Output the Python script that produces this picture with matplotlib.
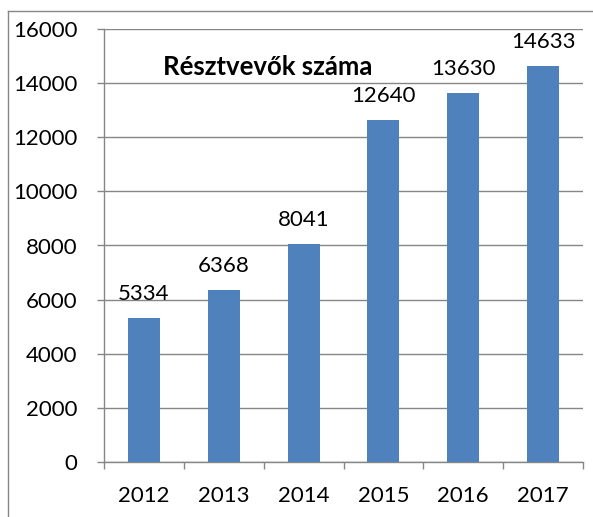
import numpy as np
import matplotlib.pyplot as plt
from matplotlib.lines import Line2D

years = ["2012", "2013", "2014", "2015", "2016", "2017"]
participants = [5334, 6368, 8041, 12640, 13630, 14633]
y_ticks = [0, 2000, 4000, 6000, 8000, 10000, 12000, 14000, 16000]
title = "Résztvevők száma"

bar_color = "#4F81BD"
line_color = "#868686"

plt.rcParams["font.family"] = ["Lato", "DejaVu Sans"]

fig = plt.figure(figsize=(5.93, 5.17), dpi=100)
ax = fig.add_axes([104 / 593, 55 / 517, 479 / 593, 433 / 517])

x = np.arange(len(years))
ax.bar(x, participants, width=0.4, color=bar_color, zorder=3)

# data labels above bars
for xi, v in zip(x, participants):
    ax.annotate(str(v), (xi, v), xytext=(0, 13), textcoords="offset points",
                ha="center", va="baseline", fontsize=16)

ax.set_xlim(-0.5, len(years) - 0.5)
ax.set_ylim(0, 16000)
ax.set_yticks(y_ticks)
ax.set_yticklabels([str(t) for t in y_ticks])
ax.tick_params(axis="y", length=5, color=line_color, width=1, pad=14, labelsize=16)

# labels at centres, tick marks at category boundaries
ax.set_xticks(x)
ax.set_xticklabels(years)
ax.set_xticks(np.arange(len(years) + 1) - 0.5, minor=True)
ax.tick_params(axis="x", which="major", length=0, pad=17, labelsize=16)
ax.tick_params(axis="x", which="minor", length=5, color=line_color, width=1)

ax.grid(axis="y", color=line_color, linewidth=1, zorder=0)
ax.set_axisbelow(True)
for s in ["top", "right"]:
    ax.spines[s].set_visible(False)
for s in ["left", "bottom"]:
    ax.spines[s].set_color(line_color)
    ax.spines[s].set_linewidth(1)

ax.text(0.342, 0.913, title, transform=ax.transAxes, ha="center", va="center",
        fontsize=18.5, fontweight="bold")

# chart frame (cut off at right and bottom)
fig.add_artist(Line2D([8 / 593, 1], [1 - 11 / 517] * 2, color=line_color, lw=1))
fig.add_artist(Line2D([8 / 593] * 2, [0, 1 - 11 / 517], color=line_color, lw=1))

fig.savefig("out.png", dpi=100)
